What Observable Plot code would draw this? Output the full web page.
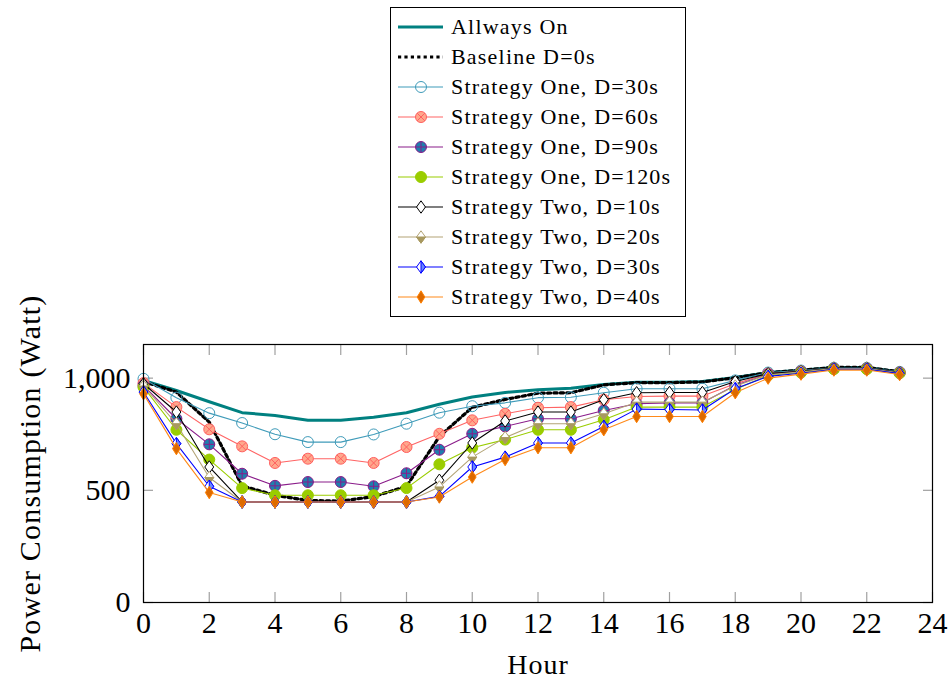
<!DOCTYPE html>
<html>
<head>
<meta charset="utf-8">
<script src="https://cdn.jsdelivr.net/npm/d3@7"></script>
<script src="https://cdn.jsdelivr.net/npm/@observablehq/plot@0.6"></script>
<style>
  body { margin: 0; background: #fff; }
  #wrap { width: 950px; height: 682px; position: relative; font-family: "Liberation Serif", serif; background: #fff; }
  #top { height: 337px; position: relative; }
  #legend { position: absolute; left: 390px; top: 7px; width: 296px; height: 310px; box-sizing: border-box;
            border: 1px solid #000; padding-top: 4px; background: #fff; }
  .row { display: flex; align-items: center; height: 30px; }
  .row svg { flex: none; }
  .row span { font-family: "Liberation Serif", serif; font-size: 22px; letter-spacing: 1.2px; color: #000; white-space: nowrap; }
</style>
</head>
<body>
<div id="wrap">
  <div id="top"><div id="legend"></div></div>
  <div id="chart"></div>
</div>
<script>
// ---------------- data ----------------
const hours = [0, 1, 2, 3, 4, 5, 6, 7, 8, 9, 10, 11, 12, 13, 14, 15, 16, 17, 18, 19, 20, 21, 22, 23];
const xTicks = [0, 2, 4, 6, 8, 10, 12, 14, 16, 18, 20, 22, 24];
const yTicks = [0, 500, 1000];
const xLabel = "Hour";
const yLabel = "Power Consumption (Watt)";

const seriesNames = [
  "Allways On",
  "Baseline D=0s",
  "Strategy One, D=30s",
  "Strategy One, D=60s",
  "Strategy One, D=90s",
  "Strategy One, D=120s",
  "Strategy Two, D=10s",
  "Strategy Two, D=20s",
  "Strategy Two, D=30s",
  "Strategy Two, D=40s"
];

const alwaysOn = [990, 945, 895, 846, 834, 812, 812, 826, 846, 884, 916, 936, 948, 955, 972, 982, 982, 985, 1003, 1025, 1035, 1048, 1048, 1028];
const baseline = [985, 938, 804, 520, 478, 455, 452, 472, 518, 740, 870, 905, 933, 935, 970, 980, 980, 983, 1002, 1025, 1035, 1048, 1048, 1028];
const s1d30  = [997, 913, 844, 800, 750, 715, 715, 749, 797, 846, 875, 890, 913, 915, 935, 953, 953, 953, 990, 1025, 1034, 1046, 1046, 1028];
const s1d60  = [978, 871, 772, 696, 622, 641, 641, 622, 693, 752, 812, 841, 868, 871, 904, 918, 920, 920, 975, 1020, 1030, 1043, 1043, 1025];
const s1d90  = [967, 819, 705, 574, 520, 537, 537, 518, 576, 681, 752, 785, 819, 819, 856, 886, 890, 890, 968, 1017, 1028, 1042, 1042, 1024];
const s1d120 = [960, 770, 637, 510, 478, 478, 478, 478, 510, 616, 690, 726, 770, 770, 815, 871, 871, 871, 950, 1012, 1025, 1040, 1040, 1022];
const s2d10  = [975, 849, 604, 448, 448, 448, 448, 448, 448, 545, 711, 809, 849, 849, 904, 935, 936, 936, 985, 1020, 1030, 1045, 1045, 1026];
const s2d20  = [965, 797, 557, 448, 448, 448, 448, 448, 448, 515, 648, 735, 797, 797, 841, 893, 893, 893, 965, 1015, 1028, 1043, 1043, 1024];
const s2d30  = [938, 708, 518, 448, 448, 448, 448, 448, 448, 473, 604, 648, 711, 711, 785, 862, 860, 858, 953, 1008, 1022, 1040, 1040, 1020];
const s2d40  = [930, 686, 490, 448, 448, 448, 448, 448, 448, 470, 559, 637, 690, 690, 770, 829, 829, 829, 935, 1000, 1018, 1036, 1036, 1016];

// ---------------- marker symbols ----------------
const rad = size => Math.sqrt(size / Math.PI);
const circleSym = { draw(c, s) { const r = rad(s); c.moveTo(r, 0); c.arc(0, 0, r, 0, 2 * Math.PI); c.closePath(); } };
const otimesSym = { draw(c, s) { const r = rad(s); c.moveTo(r, 0); c.arc(0, 0, r, 0, 2 * Math.PI); c.closePath();
  const a = r * Math.SQRT1_2; c.moveTo(-a, -a); c.lineTo(a, a); c.moveTo(-a, a); c.lineTo(a, -a); } };
const oplusSym = { draw(c, s) { const r = rad(s); c.moveTo(r, 0); c.arc(0, 0, r, 0, 2 * Math.PI); c.closePath();
  c.moveTo(-r, 0); c.lineTo(r, 0); c.moveTo(0, -r); c.lineTo(0, r); } };
function diamond(aspect, part) {
  return { draw(c, s) {
    const r = rad(s), w = r * aspect;
    if (part === "bottom") { c.moveTo(-w, 0); c.lineTo(w, 0); c.lineTo(0, r); c.closePath(); }
    else if (part === "right") { c.moveTo(0, -r); c.lineTo(w, 0); c.lineTo(0, r); c.closePath(); }
    else { c.moveTo(0, -r); c.lineTo(w, 0); c.lineTo(0, r); c.lineTo(-w, 0); c.closePath(); }
  } };
}

// ---------------- styles ----------------
const seriesValues = [alwaysOn, baseline, s1d30, s1d60, s1d90, s1d120, s2d10, s2d20, s2d30, s2d40];
const seriesStyles = [
  { stroke: "#008080", width: 3, marks: [] },
  { stroke: "#000000", width: 3.2, dash: "3.2,3.2", marks: [] },
  { stroke: "#3f9bb9", width: 1.1, marks: [{ symbol: circleSym, r: 5.5, fill: "none", stroke: "#3f9bb9" }] },
  { stroke: "#ff6464", width: 1.1, marks: [{ symbol: otimesSym, r: 5.5, fill: "#ffa78c", stroke: "#ff6060" }] },
  { stroke: "#8a1c8a", width: 1.1, marks: [{ symbol: oplusSym, r: 5.5, fill: "#1d7fae", stroke: "#8a1c8a" }] },
  { stroke: "#9acd00", width: 1.1, marks: [{ symbol: circleSym, r: 5.5, fill: "#9acd00", stroke: "#9acd00" }] },
  { stroke: "#000000", width: 1.1, marks: [{ symbol: diamond(0.72), r: 6.2, fill: "#ffffff", stroke: "#000000" }] },
  { stroke: "#b3a476", width: 1.1, marks: [{ symbol: diamond(0.72), r: 6.2, fill: "#ffffff", stroke: "#b3a476" },
                                           { symbol: diamond(0.72, "bottom"), r: 6.2, fill: "#a8995f", stroke: "#a8995f" }] },
  { stroke: "#0000ff", width: 1.1, marks: [{ symbol: diamond(0.72), r: 6.2, fill: "#ffffff", stroke: "#0000ff" },
                                           { symbol: diamond(0.72, "right"), r: 6.2, fill: "#6a86ff", stroke: "#0000ff" }] },
  { stroke: "#ff8a1a", width: 1.1, marks: [{ symbol: diamond(0.62), r: 6.2, fill: "#dd6a00", stroke: "#ff8000" }] }
];

// ---------------- chart ----------------
const marks = [];
seriesValues.forEach((vals, k) => {
  const st = seriesStyles[k];
  marks.push(Plot.line(vals, {
    x: (d, i) => hours[i], y: d => d,
    stroke: st.stroke, strokeWidth: st.width, strokeDasharray: st.dash, strokeLinejoin: "round"
  }));
  st.marks.forEach(m => {
    marks.push(Plot.dot(vals, {
      x: (d, i) => hours[i], y: d => d,
      symbol: m.symbol, r: m.r, fill: m.fill, stroke: m.stroke, strokeWidth: 1
    }));
  });
});

const tickGray = "#a0a0a0";
const plot = Plot.plot({
  width: 950,
  height: 345,
  marginTop: 7,
  marginBottom: 80,
  marginLeft: 143,
  marginRight: 18,
  x: { domain: [0, 24] },
  y: { domain: [0, 1150] },
  style: { fontFamily: "'Liberation Serif', serif", fontSize: "30px", color: "#000", background: "#fff", overflow: "visible" },
  marks: [
    Plot.axisX({ ticks: xTicks, tickSize: -10, stroke: tickGray, strokeWidth: 1.2, tickFormat: () => "", label: null }),
    Plot.axisX({ anchor: "top", ticks: xTicks, tickSize: -10, stroke: tickGray, strokeWidth: 1.2, tickFormat: () => "", label: null }),
    Plot.axisY({ ticks: yTicks, tickSize: -10, stroke: tickGray, strokeWidth: 1.2, tickFormat: () => "", label: null }),
    Plot.axisY({ anchor: "right", ticks: yTicks, tickSize: -10, stroke: tickGray, strokeWidth: 1.2, tickFormat: () => "", label: null }),
    Plot.axisX({ ticks: xTicks, tickSize: 0, tickPadding: 9, tickFormat: d => String(d), label: null, fill: "#000" }),
    Plot.axisY({ ticks: yTicks, tickSize: 0, tickPadding: 13, tickFormat: d3.format(","), label: null, fill: "#000" }),
    ...marks,
    Plot.frame({ stroke: "#000", strokeWidth: 1.2 }),
    Plot.text([xLabel], { text: d => d, frameAnchor: "bottom", dy: 63, lineAnchor: "middle", textAnchor: "middle", fontSize: 28, fill: "#000" }),
    Plot.text([yLabel], { text: d => d, frameAnchor: "left", dx: -113, rotate: -90, lineAnchor: "middle", textAnchor: "middle", fontSize: 30, fill: "#000" })
  ]
});
document.getElementById("chart").appendChild(plot);
d3.select(plot).selectAll("text").each(function () {
  const t = this.textContent;
  if (t === yLabel) d3.select(this).style("letter-spacing", "1.2px");
  if (t === xLabel) d3.select(this).style("letter-spacing", "1px");
});

// ---------------- legend ----------------
const legend = d3.select("#legend");
seriesNames.forEach((name, k) => {
  const st = seriesStyles[k];
  const row = legend.append("div").attr("class", "row");
  const svg = row.append("svg").attr("width", 60).attr("height", 30);
  svg.append("line").attr("x1", 7).attr("x2", 52).attr("y1", 15).attr("y2", 15)
    .attr("stroke", st.stroke).attr("stroke-width", st.width)
    .attr("stroke-dasharray", st.dash || null);
  st.marks.forEach(m => {
    const p = d3.path();
    m.symbol.draw(p, Math.PI * m.r * m.r);
    svg.append("path").attr("transform", "translate(30,15)").attr("d", p.toString())
      .attr("fill", m.fill).attr("stroke", m.stroke).attr("stroke-width", 1);
  });
  row.append("span").text(name);
});
</script>
</body>
</html>
